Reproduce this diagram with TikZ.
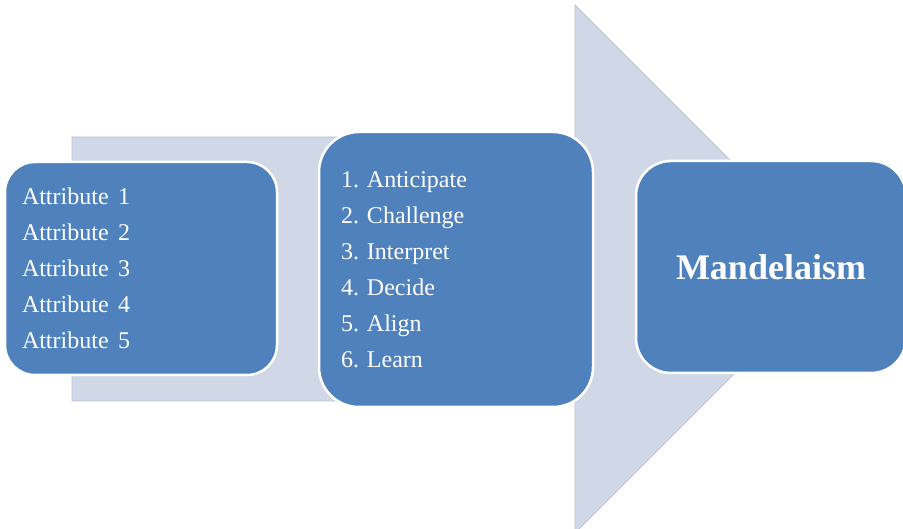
\documentclass[tikz,border=0pt]{standalone}
\usepackage{fontspec}
\setmainfont{Liberation Serif}
\frenchspacing

\definecolor{stageblue}{HTML}{4F81BD}
\definecolor{arrowfill}{HTML}{D0D8E8}
\definecolor{arrowline}{HTML}{BCC4D2}

\begin{document}
\begin{tikzpicture}[x=1pt, y=-1pt,
  bigarrow/.style={fill=arrowfill, draw=arrowline, line width=0.8pt},
  stage/.style={draw=white, line width=2.5pt, fill=stageblue, text=white, inner sep=0pt},
  listbox/.style={stage, align=left, font=\fontsize{24}{36}\selectfont}]

\useasboundingbox (0,0) rectangle (903,529);

% the big arrow behind the boxes
\draw[bigarrow] (72,137) -- (575,137) -- (575,5) -- (839,269) -- (575,533) -- (575,401) -- (72,401) -- cycle;

\node[listbox, rounded corners=30pt, text width=238pt, inner xsep=17pt, minimum height=213pt] (attr) at (141,268.5)
  {Attribute\hspace{0.4em}1\\Attribute\hspace{0.4em}2\\Attribute\hspace{0.4em}3\\Attribute\hspace{0.4em}4\\Attribute\hspace{0.4em}5};
\node[listbox, rounded corners=40pt, text width=230pt, inner xsep=22pt, minimum height=275pt] (steps) at (456,269.5)
  {1. Anticipate\\2. Challenge\\3. Interpret\\4. Decide\\5. Align\\6. Learn};
\node[stage, rounded corners=35pt, minimum width=270pt, minimum height=212pt, font=\fontsize{36}{40}\selectfont\bfseries] (mandela) at (771,267)
  {Mandelaism};

\end{tikzpicture}
\end{document}
